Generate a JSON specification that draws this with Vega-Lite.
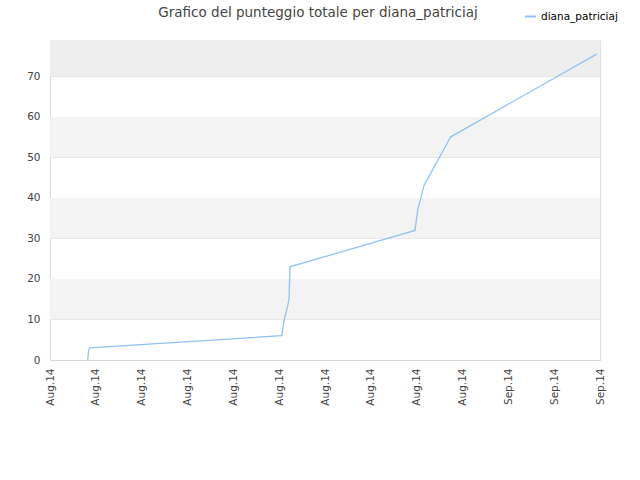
{
  "$schema": "https://vega.github.io/schema/vega-lite/v6.json",
  "width": 550,
  "height": 320,
  "autosize": "none",
  "padding": {"left": 50, "top": 40, "right": 40, "bottom": 120},
  "background": "#ffffff",
  "title": {
    "text": "Grafico del punteggio totale per diana_patriciaj",
    "anchor": "middle",
    "dx": -7,
    "offset": -9,
    "font": "DejaVu Sans",
    "fontSize": 13.5,
    "fontWeight": "normal",
    "color": "#444444"
  },
  "datasets": {
    "bands": [
      {"lo": 10, "hi": 20, "band": "light"},
      {"lo": 30, "hi": 40, "band": "light"},
      {"lo": 50, "hi": 60, "band": "light"},
      {"lo": 70, "hi": 79, "band": "top"}
    ],
    "scores": [
      {"time": "2014-08-04T11:13:00", "punteggio": 0, "utente": "diana_patriciaj"},
      {"time": "2014-08-04T12:28:00", "punteggio": 2, "utente": "diana_patriciaj"},
      {"time": "2014-08-04T14:02:00", "punteggio": 3, "utente": "diana_patriciaj"},
      {"time": "2014-08-17T04:00:00", "punteggio": 6, "utente": "diana_patriciaj"},
      {"time": "2014-08-17T08:00:00", "punteggio": 9.9, "utente": "diana_patriciaj"},
      {"time": "2014-08-17T15:25:00", "punteggio": 14.8, "utente": "diana_patriciaj"},
      {"time": "2014-08-17T17:00:00", "punteggio": 23, "utente": "diana_patriciaj"},
      {"time": "2014-08-25T21:20:00", "punteggio": 32, "utente": "diana_patriciaj"},
      {"time": "2014-08-26T01:40:00", "punteggio": 37, "utente": "diana_patriciaj"},
      {"time": "2014-08-26T11:30:00", "punteggio": 43.1, "utente": "diana_patriciaj"},
      {"time": "2014-08-28T05:30:00", "punteggio": 55.1, "utente": "diana_patriciaj"},
      {"time": "2014-09-06T18:45:00", "punteggio": 75.5, "utente": "diana_patriciaj"}
    ]
  },
  "layer": [
    {
      "data": {"name": "bands"},
      "mark": {"type": "rect"},
      "encoding": {
        "y": {"field": "lo", "type": "quantitative", "scale": {"domain": [0, 79]}},
        "y2": {"field": "hi"},
        "color": {
          "field": "band",
          "type": "nominal",
          "scale": {"domain": ["light", "top"], "range": ["#f3f3f3", "#eeeeee"]},
          "legend": null
        }
      }
    },
    {
      "data": {"name": "scores"},
      "mark": {"type": "line", "strokeWidth": 1.3, "interpolate": "linear"},
      "encoding": {
        "x": {
          "field": "time",
          "type": "temporal",
          "scale": {"domain": ["2014-08-02T00:00:00", "2014-09-07T00:00:00"]},
          "axis": {
            "title": null,
            "format": "%b.%y",
            "labelAngle": -90,
            "labelAlign": "right",
            "labelBaseline": "middle",
            "labelPadding": 8,
            "labelFont": "DejaVu Sans",
            "labelFontSize": 10.5,
            "labelColor": "#444444",
            "ticks": false,
            "grid": false,
            "domainColor": "#d8d8d8",
            "labelOverlap": false,
            "values": [
              {"year": 2014, "month": 8, "date": 2},
              {"year": 2014, "month": 8, "date": 5},
              {"year": 2014, "month": 8, "date": 8},
              {"year": 2014, "month": 8, "date": 11},
              {"year": 2014, "month": 8, "date": 14},
              {"year": 2014, "month": 8, "date": 17},
              {"year": 2014, "month": 8, "date": 20},
              {"year": 2014, "month": 8, "date": 23},
              {"year": 2014, "month": 8, "date": 26},
              {"year": 2014, "month": 8, "date": 29},
              {"year": 2014, "month": 9, "date": 1},
              {"year": 2014, "month": 9, "date": 4},
              {"year": 2014, "month": 9, "date": 7}
            ]
          }
        },
        "y": {
          "field": "punteggio",
          "type": "quantitative",
          "scale": {"domain": [0, 79], "nice": false},
          "axis": {
            "title": null,
            "values": [0, 10, 20, 30, 40, 50, 60, 70],
            "labelFont": "DejaVu Sans",
            "labelFontSize": 10.5,
            "labelColor": "#444444",
            "labelPadding": 10,
            "ticks": false,
            "grid": true,
            "gridColor": "#dddddd",
            "domainColor": "#d8d8d8"
          }
        },
        "stroke": {
          "field": "utente",
          "type": "nominal",
          "scale": {"range": ["#92c3f4"]},
          "legend": {
            "title": null,
            "orient": "none",
            "legendX": 474,
            "legendY": -30,
            "symbolType": "stroke",
            "symbolSize": 121,
            "symbolStrokeWidth": 2,
            "labelFont": "DejaVu Sans",
            "labelFontSize": 10.5,
            "labelColor": "#000000"
          }
        }
      }
    }
  ],
  "config": {
    "view": {"stroke": "#dddddd"}
  }
}
